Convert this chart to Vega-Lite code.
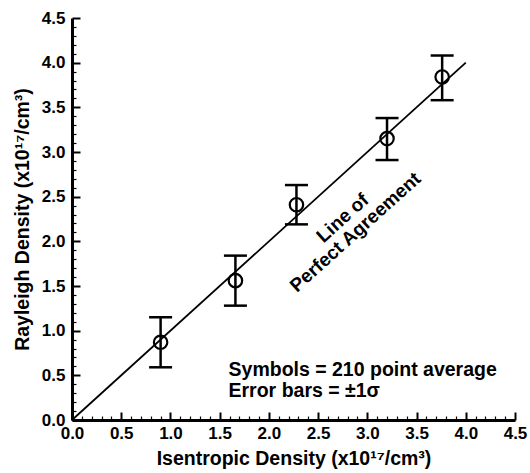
{
  "$schema": "https://vega.github.io/schema/vega-lite/v6.json",
  "autosize": "none",
  "width": 443,
  "height": 402,
  "padding": {"left": 72, "top": 18, "right": 15, "bottom": 53},
  "background": "white",
  "config": {
    "view": {"stroke": null},
    "font": "Liberation Sans",
    "axis": {
      "domainColor": "black",
      "domainWidth": 3,
      "tickColor": "black",
      "tickWidth": 1.5,
      "labelColor": "black",
      "labelFont": "Liberation Sans",
      "labelFontSize": 17,
      "labelFontWeight": "bold",
      "titleColor": "black",
      "titleFont": "Liberation Sans",
      "titleFontSize": 19.5,
      "titleFontWeight": "bold",
      "grid": false,
      "labelOverlap": false,
      "labelBound": false,
      "labelFlush": false
    }
  },
  "datasets": {
    "pts": [
      {"x": 0.90, "y": 0.87, "lo": 0.59, "hi": 1.15},
      {"x": 1.66, "y": 1.56, "lo": 1.28, "hi": 1.84},
      {"x": 2.28, "y": 2.41, "lo": 2.19, "hi": 2.63},
      {"x": 3.20, "y": 3.15, "lo": 2.91, "hi": 3.38},
      {"x": 3.76, "y": 3.84, "lo": 3.58, "hi": 4.08}
    ],
    "ref": [
      {"x": 0, "y": 0},
      {"x": 4, "y": 4}
    ],
    "notes": [
      {"x": 1.59, "y": 0.49, "label": "Symbols = 210 point average"},
      {"x": 1.59, "y": 0.255, "label": "Error bars = ±1σ"}
    ],
    "lineLabel": [
      {"x": 2.75, "y": 2.26, "label": "Line of\nPerfect Agreement"}
    ]
  },
  "resolve": {"axis": {"x": "independent", "y": "independent"}},
  "layer": [
    {
      "data": {"name": "ref"},
      "mark": {"type": "line", "color": "black", "strokeWidth": 1.8},
      "encoding": {
        "x": {
          "field": "x", "type": "quantitative",
          "scale": {"domain": [0, 4.5], "nice": false, "zero": false},
          "axis": {
            "orient": "bottom",
            "title": "Isentropic Density (x10¹⁷/cm³)",
            "values": [0, 0.5, 1, 1.5, 2, 2.5, 3, 3.5, 4, 4.5],
            "format": ".1f",
            "tickSize": -8,
            "tickWidth": 2,
            "labelPadding": 13.5,
            "titlePadding": 8
          }
        },
        "y": {
          "field": "y", "type": "quantitative",
          "scale": {"domain": [0, 4.5], "nice": false, "zero": false},
          "axis": {
            "orient": "left",
            "title": "Rayleigh Density (x10¹⁷/cm³)",
            "values": [0, 0.5, 1, 1.5, 2, 2.5, 3, 3.5, 4, 4.5],
            "format": ".1f",
            "tickSize": -8,
            "tickWidth": 2,
            "labelPadding": 15,
            "titlePadding": 9
          }
        }
      }
    },
    {
      "data": {"name": "pts"},
      "mark": {"type": "rule", "color": "black", "strokeWidth": 2.5},
      "encoding": {
        "x": {
          "field": "x", "type": "quantitative",
          "axis": {
            "orient": "bottom",
            "title": null,
            "labels": false,
            "domain": false,
            "values": [0.1,0.2,0.3,0.4,0.6,0.7,0.8,0.9,1.1,1.2,1.3,1.4,1.6,1.7,1.8,1.9,2.1,2.2,2.3,2.4,2.6,2.7,2.8,2.9,3.1,3.2,3.3,3.4,3.6,3.7,3.8,3.9,4.1,4.2,4.3,4.4],
            "tickSize": -4,
            "tickWidth": 1.2
          }
        },
        "y": {
          "field": "lo", "type": "quantitative",
          "axis": {
            "orient": "left",
            "title": null,
            "labels": false,
            "domain": false,
            "values": [0.1,0.2,0.3,0.4,0.6,0.7,0.8,0.9,1.1,1.2,1.3,1.4,1.6,1.7,1.8,1.9,2.1,2.2,2.3,2.4,2.6,2.7,2.8,2.9,3.1,3.2,3.3,3.4,3.6,3.7,3.8,3.9,4.1,4.2,4.3,4.4],
            "tickSize": -4,
            "tickWidth": 1.2
          }
        },
        "y2": {"field": "hi"}
      }
    },
    {
      "data": {"name": "pts"},
      "mark": {"type": "tick", "orient": "horizontal", "color": "black", "size": 23, "thickness": 2.5, "opacity": 1},
      "encoding": {
        "x": {"field": "x", "type": "quantitative", "axis": null},
        "y": {"field": "lo", "type": "quantitative", "axis": null}
      }
    },
    {
      "data": {"name": "pts"},
      "mark": {"type": "tick", "orient": "horizontal", "color": "black", "size": 23, "thickness": 2.5, "opacity": 1},
      "encoding": {
        "x": {"field": "x", "type": "quantitative", "axis": null},
        "y": {"field": "hi", "type": "quantitative", "axis": null}
      }
    },
    {
      "data": {"name": "pts"},
      "mark": {"type": "point", "shape": "circle", "filled": false, "stroke": "black", "strokeWidth": 2.2, "size": 180, "opacity": 1},
      "encoding": {
        "x": {"field": "x", "type": "quantitative", "axis": null},
        "y": {"field": "y", "type": "quantitative", "axis": null}
      }
    },
    {
      "data": {"name": "notes"},
      "mark": {"type": "text", "align": "left", "baseline": "alphabetic", "fontSize": 19.5, "fontWeight": "bold", "color": "black"},
      "encoding": {
        "x": {"field": "x", "type": "quantitative", "axis": null},
        "y": {"field": "y", "type": "quantitative", "axis": null},
        "text": {"field": "label"}
      }
    },
    {
      "data": {"name": "lineLabel"},
      "mark": {"type": "text", "align": "center", "baseline": "middle", "fontSize": 19, "fontWeight": "bold", "color": "black", "angle": -42, "lineBreak": "\n", "lineHeight": 19},
      "encoding": {
        "x": {"field": "x", "type": "quantitative", "axis": null},
        "y": {"field": "y", "type": "quantitative", "axis": null},
        "text": {"field": "label"}
      }
    }
  ]
}
